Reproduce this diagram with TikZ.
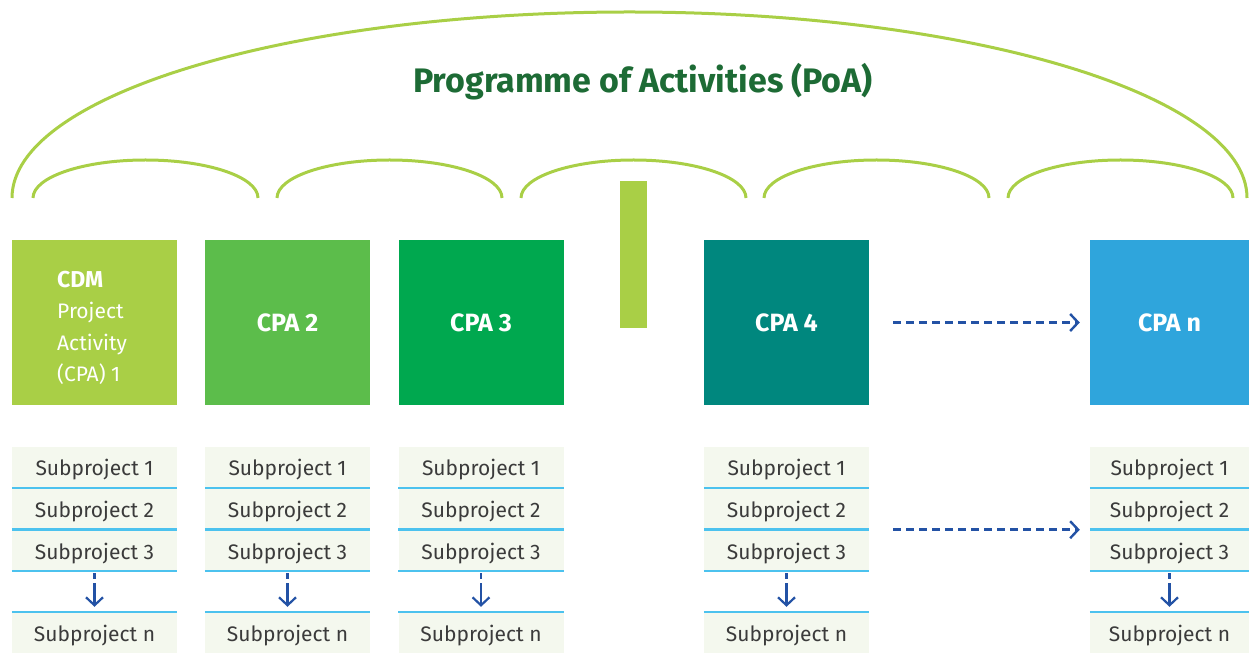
\documentclass[tikz,border=0pt]{standalone}
\usepackage{fontspec}
\setmainfont{Fira Sans}
\usepackage{tikz}
\usetikzlibrary{arrows.meta,positioning}
\definecolor{lime}{HTML}{A9CF46}
\definecolor{cpagreen}{HTML}{5CBD4B}
\definecolor{cpadark}{HTML}{00A84F}
\definecolor{cpateal}{HTML}{00877E}
\definecolor{cpablue}{HTML}{2FA5DC}
\definecolor{titlegreen}{HTML}{1D6B35}
\definecolor{rowbg}{HTML}{F4F8EE}
\definecolor{sepblue}{HTML}{4CC2EE}
\definecolor{arrowblue}{HTML}{2352A5}
\definecolor{subtext}{HTML}{3B3B3B}

\begin{document}
\begin{tikzpicture}[x=1pt,y=1pt,>={Straight Barb[length=8pt,width=17pt]},
        arcline/.style={draw=lime,line width=3pt},
        cpa/.style={fill=#1,minimum width=165pt,minimum height=165pt,inner sep=0pt,
                text=white,font=\fontsize{25}{30}\selectfont\bfseries},
        sub/.style={fill=rowbg,minimum height=41pt,inner sep=0pt,text=subtext,
                text height=21pt,text depth=4pt,font=\fontsize{21}{25}\selectfont},
        sepline/.style={draw=sepblue,line width=2.5pt},
        down/.style={->,draw=arrowblue,line width=2.2pt,dash pattern=on 6pt off 4pt on 40pt,
                shorten <=2pt,shorten >=5pt},
        next/.style={->,draw=arrowblue,line width=2.4pt,dash pattern=on 8pt off 5pt,
                shorten <=24pt,shorten >=10pt}]
    \useasboundingbox (0,0) rectangle (1249,653);
    % arcs
    \draw[arcline] (12,455) arc[start angle=180,end angle=0,x radius=617.5,y radius=186];
    \foreach \a in {33,277,521,764,1008}
        \draw[arcline] (\a,455) arc[start angle=180,end angle=0,x radius=112.5,y radius=38];
    \node[text=titlegreen,font=\fontsize{34}{40}\selectfont\bfseries] (poa) at (643,571) {Programme of Activities (PoA)};
    % CPAs
    \node[cpa=lime] (cpa1) at (94.5,330.5) {};
    \node[text=white,align=left,anchor=west,inner sep=0pt,font=\fontsize{21}{31.5}\selectfont] (cpa1txt) at (57,325) {{\fontsize{23}{31.5}\selectfont\bfseries CDM}\\Project\\Activity\\(CPA) 1};
    \node[cpa=cpagreen] (cpa2) at (287.5,330.5) {CPA 2};
    \node[cpa=cpadark] (cpa3) at (481,330.5) {CPA 3};
    \node[fill=lime,minimum width=27pt,minimum height=147pt,inner sep=0pt] (bar) at (633.5,398.5) {};
    \node[cpa=cpateal] (cpa4) at (786.5,330.5) {CPA 4};
    \node[cpa=cpablue,minimum width=159pt] (cpan) at (1169.5,330.5) {CPA n};
    % subprojects
    \foreach \c/\x/\w in {1/94.5/165,2/287.5/165,3/481/165,4/786.5/165,n/1169.5/159} {
        \node[sub,minimum width=\w pt] (s1-\c) at (\x,185.5) {Subproject 1};
        \node[sub,minimum width=\w pt] (s2-\c) at (\x,144) {Subproject 2};
        \node[sub,minimum width=\w pt] (s3-\c) at (\x,102.5) {Subproject 3};
        \node[sub,minimum width=\w pt] (sn-\c) at (\x,20.5) {Subproject n};
        \draw[sepline] (s1-\c.south west) -- (s1-\c.south east);
        \draw[sepline] (s2-\c.south west) -- (s2-\c.south east);
        \draw[sepline] (s3-\c.south west) -- (s3-\c.south east);
        \draw[sepline] (sn-\c.north west) -- (sn-\c.north east);
        \draw[down] (s3-\c.south) -- (sn-\c.north);
    }
    \draw[next] (cpa4.east) -- (cpan.west);
    \draw[next] (s2-4.south east) -- (s2-n.south west);
\end{tikzpicture}
\end{document}
